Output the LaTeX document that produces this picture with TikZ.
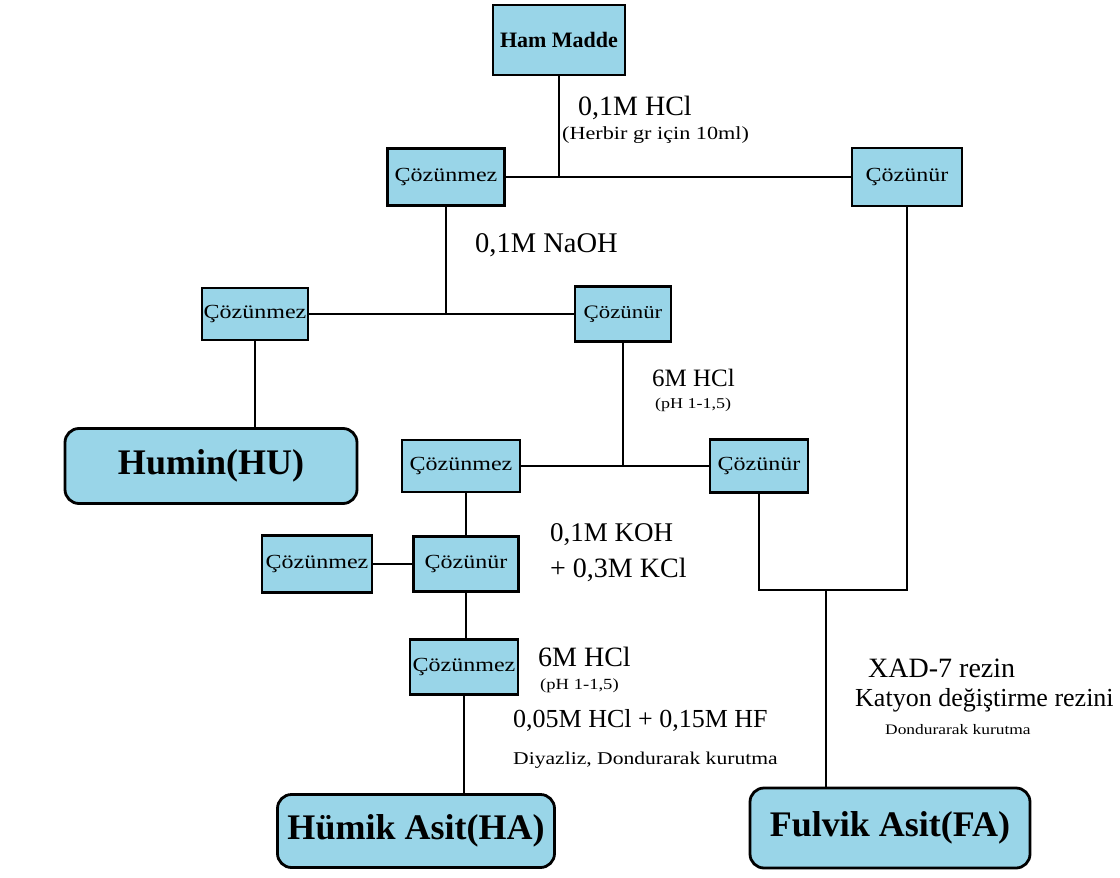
\documentclass[tikz,border=0pt]{standalone}
\usepackage{fontspec}
\setmainfont{Liberation Serif}
\newfontfamily\boxfont[FakeStretch=1.2]{Liberation Serif}
\definecolor{boxblue}{RGB}{153,213,232}
\newcommand{\fs}[1]{\fontsize{#1}{#1}\selectfont}
\begin{document}
\begin{tikzpicture}[x=1pt,y=-1pt,
  sbox/.style={draw=black, fill=boxblue, line width=2.8pt, inner sep=0pt, align=center},
  bbox/.style={sbox, rounded corners=14pt},
  sm/.style={font=\boxfont\fs{20}},
  conn/.style={line width=1.8pt},
  lbl/.style={inner sep=0pt, anchor=west}]
\useasboundingbox (0,0) rectangle (1120,878);

% boxes
\node[sbox, minimum width=132, minimum height=70] (ham) at (559,40) {\bfseries\fs{22}Ham Madde};
\node[sbox, sm, minimum width=117, minimum height=57] (c1) at (446,177) {Çözünmez};
\node[sbox, sm, minimum width=110, minimum height=58] (s1) at (907,177) {Çözünür};
\node[sbox, sm, minimum width=106, minimum height=52] (c2) at (255,314) {Çözünmez};
\node[sbox, sm, minimum width=96, minimum height=55, font=\boxfont\fs{19}] (s2) at (623,314) {Çözünür};
\node[bbox, minimum width=292, minimum height=75] (hu) at (211,466) {\bfseries\fs{36}Humin(HU)};
\node[sbox, sm, minimum width=118, minimum height=52] (c3) at (461,466) {Çözünmez};
\node[sbox, sm, minimum width=98, minimum height=53] (s3) at (759,466) {Çözünür};
\node[sbox, sm, minimum width=110, minimum height=57] (c4) at (317,564) {Çözünmez};
\node[sbox, sm, minimum width=105, minimum height=55] (s4) at (466,564) {Çözünür};
\node[sbox, sm, minimum width=108, minimum height=55] (c5) at (464,667) {Çözünmez};
\node[bbox, minimum width=277, minimum height=73] (ha) at (416,831) {\bfseries\fs{36}Hümik Asit(HA)};
\node[bbox, minimum width=280, minimum height=80] (fa) at (890,828) {\bfseries\fs{36}Fulvik Asit(FA)};

% connectors
\draw[conn] (c1.east) -- (s1.west);
\draw[conn] (ham.south) -- (ham.south |- c1.east);
\draw[conn] (c2.east) -- (s2.west);
\draw[conn] (c1.south) -- (c1.south |- c2.east);
\draw[conn] (c2.south) -- (c2.south |- hu.north);
\draw[conn] (c3.east) -- (s3.west);
\draw[conn] (s2.south) -- (s2.south |- c3.east);
\draw[conn] (s4.north) -- (s4.north |- c3.south);
\draw[conn] (c4.east) -- (s4.west);
\draw[conn] (s4.south) -- (s4.south |- c5.north);
\draw[conn] (c5.south) -- (c5.south |- ha.north);
\coordinate (jf) at (826,590);
\draw[conn] (s1.south) -- (s1.south |- jf) -- (s3.south |- jf) -- (s3.south);
\draw[conn] (jf) -- (jf |- fa.north);

% labels
\node[lbl] (l1) at (578,108) {\fs{28}0,1M HCl};
\node[lbl] (l2) at (562,135) {\boxfont\fs{18.5}(Herbir gr için 10ml)};
\node[lbl] (l3) at (475,245) {\fs{28.5}0,1M NaOH};
\node[lbl] (l4) at (652,378) {\fs{25}6M HCl};
\node[lbl] (l5) at (655,405) {\boxfont\fs{15}(pH 1-1,5)};
\node[lbl] (l6) at (550,535) {\fs{27}0,1M KOH};
\node[lbl] (l7) at (550,570) {\fs{28}+ 0,3M KCl};
\node[lbl] (l8) at (538,657) {\fs{28}6M HCl};
\node[lbl] (l9) at (540,686) {\boxfont\fs{15.5}(pH 1-1,5)};
\node[lbl] (l10) at (513,720) {\fs{26}0,05M HCl + 0,15M HF};
\node[lbl] (l11) at (513,760) {\boxfont\fs{18}Diyazliz, Dondurarak kurutma};
\node[lbl] (l12) at (868,668) {\fs{28}XAD-7 rezin};
\node[lbl] (l13) at (855,700) {\fs{26}Katyon değiştirme rezini};
\node[lbl] (l14) at (885,730) {\boxfont\fs{14.5}Dondurarak kurutma};
\end{tikzpicture}
\end{document}
